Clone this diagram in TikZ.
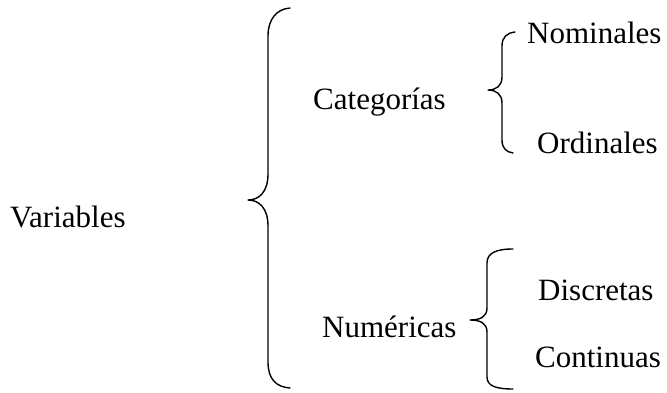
\documentclass[tikz,border=0pt]{standalone}
\usepackage{fontspec}
\setmainfont{Liberation Serif}
\begin{document}
\begin{tikzpicture}[x=1pt,y=-1pt,
  lbl/.style={anchor=base west,inner sep=0pt,font=\fontsize{31}{36}\selectfont},
  brace/.style={line width=1.4pt,line cap=round,line join=round}]
\useasboundingbox (0,0) rectangle (667,392);
\node[lbl] (var) at (10,227) {Variables};
\node[lbl] (cat) at (313,109) {Categorías};
\node[lbl] (nom) at (527,43) {Nominales};
\node[lbl] (ord) at (537,153) {Ordinales};
\node[lbl] (num) at (322,337) {Numéricas};
\node[lbl] (dis) at (538,300) {Discretas};
\node[lbl] (con) at (535,367) {Continuas};
% big brace
\draw[brace] (290,8) .. controls (276,9) and (268,20) .. (268,36)
  -- (268,174) .. controls (268,192) and (259,200) .. (248,200)
  .. controls (259,200) and (268,208) .. (268,226)
  -- (268,362) .. controls (268,379) and (276,387) .. (290,388);
% small brace 1
\draw[brace] (515,32) .. controls (507,33) and (502,37) .. (502,46)
  -- (502,77) .. controls (502,86) and (496,90) .. (488,90)
  .. controls (496,90) and (502,94) .. (502,103)
  -- (502,140) .. controls (502,148) and (506,152) .. (513,153);
% small brace 2
\draw[brace] (513,249) .. controls (496,249) and (487,253) .. (487,263)
  -- (487,308) .. controls (487,317) and (480,320) .. (470,320)
  .. controls (480,320) and (487,323) .. (487,332)
  -- (487,377) .. controls (487,386) and (496,389) .. (513,389);
\end{tikzpicture}
\end{document}
